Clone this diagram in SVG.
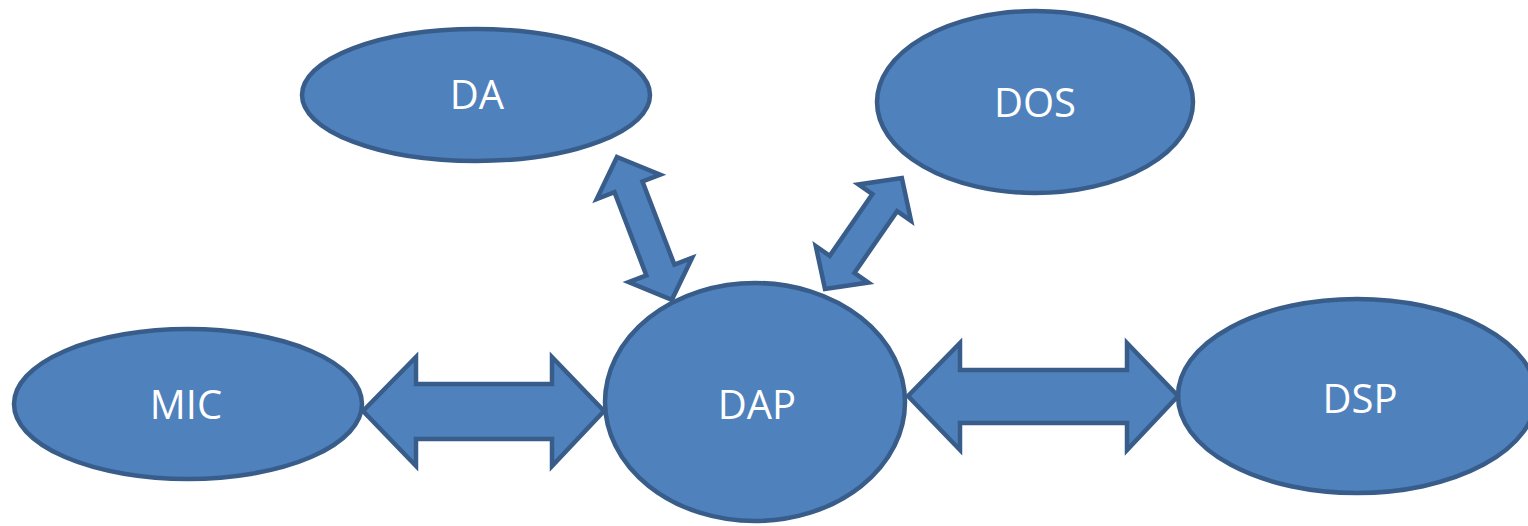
<svg xmlns="http://www.w3.org/2000/svg" width="1528" height="526" viewBox="0 0 1528 526">
<style>
.n{fill:#4f81bd;stroke:#385d8a;stroke-width:4.5}
.c{fill:#4f81bd;stroke:#385d8a;stroke-width:4.5;stroke-linejoin:miter}
.t{font-family:"Open Sans","Liberation Sans",sans-serif;font-size:40px;fill:#ffffff;text-anchor:middle}
</style>
<rect width="1528" height="526" fill="#ffffff"/>
<g id="node-DA"><ellipse class="n" cx="476" cy="95" rx="174" ry="66"/><text class="t" x="477" y="109">DA</text></g>
<g id="node-DOS"><ellipse class="n" cx="1035" cy="102" rx="158" ry="91"/><text class="t" x="1035" y="117">DOS</text></g>
<g id="node-MIC"><ellipse class="n" cx="188" cy="404" rx="174" ry="75"/><text class="t" x="186" y="419">MIC</text></g>
<g id="node-DAP"><ellipse class="n" cx="755" cy="402" rx="150" ry="119"/><text class="t" x="757" y="419">DAP</text></g>
<g id="node-DSP"><ellipse class="n" cx="1357" cy="396" rx="179" ry="97"/><text class="t" x="1360" y="413">DSP</text></g>
<g id="connectors">
<polygon class="c" points="363,411 416,357 416,384 552,384 552,357 604,411 552,466 552,439 416,439 416,466"/>
<polygon class="c" points="908,396 960,343 960,370 1127,370 1127,343 1178,396 1127,450 1127,423 960,423 960,450"/>
<polygon class="c" transform="translate(617,157) rotate(69)" points="0,0 32,-34 32,-15 121,-15 121,-34 153,0 121,34 121,15 32,15 32,34"/>
<polygon class="c" transform="translate(825,289) rotate(-55.3)" points="0,0 30,-32 30,-15 105,-15 105,-32 135,0 105,32 105,15 30,15 30,32"/>
</g>
</svg>
